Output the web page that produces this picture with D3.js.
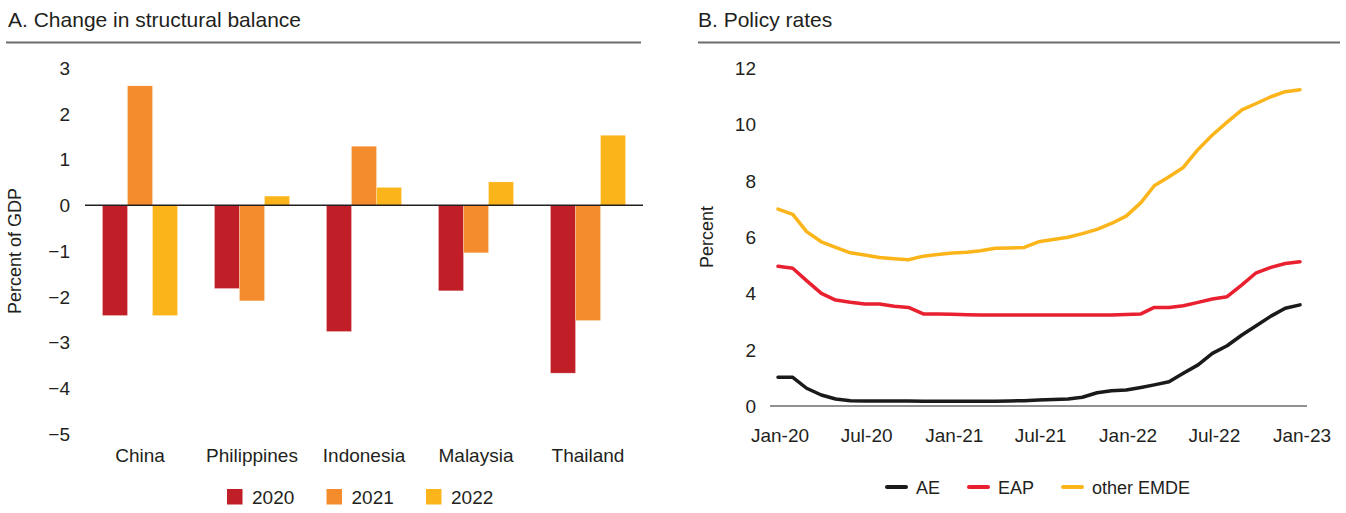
<!DOCTYPE html>
<html>
<head>
<meta charset="utf-8">
<script src="https://cdn.jsdelivr.net/npm/d3@7"></script>
<style>
  body { margin: 0; background: #fff; }
  svg text { font-family: "Liberation Sans", Arial, sans-serif; fill: #231f20; }
</style>
</head>
<body>
<svg width="1346" height="513"></svg>
<script>
// Panel A data
const countries = ["China", "Philippines", "Indonesia", "Malaysia", "Thailand"];
const years = ["2020", "2021", "2022"];
const bal2020 = [-2.41, -1.82, -2.76, -1.87, -3.67];
const bal2021 = [2.61, -2.09, 1.29, -1.04, -2.52];
const bal2022 = [-2.41, 0.20, 0.39, 0.51, 1.53];
const balTicks = [3, 2, 1, 0, -1, -2, -3, -4, -5];

// Panel B data (monthly)
const months = [
  "2020-01","2020-02","2020-03","2020-04","2020-05","2020-06","2020-07","2020-08","2020-09","2020-10","2020-11","2020-12",
  "2021-01","2021-02","2021-03","2021-04","2021-05","2021-06","2021-07","2021-08","2021-09","2021-10","2021-11","2021-12",
  "2022-01","2022-02","2022-03","2022-04","2022-05","2022-06","2022-07","2022-08","2022-09","2022-10","2022-11","2022-12",
  "2023-01"
];
const rateAE = [1.02, 1.02, 0.63, 0.39, 0.25, 0.19, 0.18, 0.18, 0.18, 0.18, 0.17, 0.17,
  0.17, 0.17, 0.17, 0.17, 0.18, 0.19, 0.21, 0.23, 0.25, 0.31, 0.47, 0.54,
  0.57, 0.66, 0.75, 0.86, 1.16, 1.46, 1.87, 2.14, 2.52, 2.85, 3.19, 3.47, 3.59];
const rateEAP = [4.96, 4.89, 4.45, 4.00, 3.76, 3.68, 3.62, 3.62, 3.54, 3.50, 3.27, 3.27,
  3.26, 3.24, 3.23, 3.23, 3.23, 3.23, 3.23, 3.23, 3.23, 3.23, 3.23, 3.23,
  3.25, 3.27, 3.50, 3.50, 3.56, 3.68, 3.80, 3.88, 4.30, 4.73, 4.92, 5.06, 5.12];
const rateEMDE = [6.99, 6.80, 6.19, 5.83, 5.63, 5.44, 5.36, 5.27, 5.23, 5.19, 5.32, 5.38,
  5.43, 5.46, 5.51, 5.60, 5.61, 5.63, 5.83, 5.91, 5.99, 6.12, 6.27, 6.48,
  6.74, 7.22, 7.82, 8.14, 8.47, 9.11, 9.62, 10.08, 10.51, 10.74, 10.98, 11.16, 11.23];
const rateTicks = [0, 2, 4, 6, 8, 10, 12];
const dateTicks = ["2020-01","2020-07","2021-01","2021-07","2022-01","2022-07","2023-01"];

const barColors = ["#c01f27", "#f48c2d", "#fbb51a"];
const lineSeries = [
  { name: "AE", values: rateAE, color: "#1a1a1a" },
  { name: "EAP", values: rateEAP, color: "#e8202f" },
  { name: "other EMDE", values: rateEMDE, color: "#fbb51a" }
];

const svg = d3.select("svg");
const parse = d3.timeParse("%Y-%m");

// ---------- Panel A ----------
svg.append("text").attr("x", 8).attr("y", 27).style("font-size", "21px")
  .text("A. Change in structural balance");
svg.append("line").attr("x1", 6).attr("x2", 641).attr("y1", 42.5).attr("y2", 42.5)
  .attr("stroke", "#6d6d6d").attr("stroke-width", 2);

const yA = d3.scaleLinear().domain([-5, 3]).range([434, 68]);
const x0 = d3.scaleBand().domain(countries).range([85, 643]).paddingInner(0.33).paddingOuter(0.156);
const x1 = d3.scaleBand().domain(years).range([0, x0.bandwidth()]);
const balSeries = [bal2020, bal2021, bal2022];

const gA = svg.append("g");
gA.selectAll("text.tick").data(balTicks).join("text")
  .attr("x", 70).attr("y", d => yA(d)).attr("dy", "0.36em")
  .attr("text-anchor", "end").style("font-size", "19px")
  .text(d => d < 0 ? "\u2212" + Math.abs(d) : d);

countries.forEach((c, i) => {
  gA.selectAll(null).data(years).join("rect")
    .attr("x", y => x0(c) + x1(y))
    .attr("width", x1.bandwidth())
    .attr("y", (y, j) => yA(Math.max(0, balSeries[j][i])))
    .attr("height", (y, j) => Math.abs(yA(balSeries[j][i]) - yA(0)))
    .attr("fill", (y, j) => barColors[j])
    .attr("stroke", "#fff").attr("stroke-opacity", 0.4).attr("stroke-width", 0.6);
});

gA.append("line").attr("x1", 85).attr("x2", 643).attr("y1", yA(0)).attr("y2", yA(0))
  .attr("stroke", "#231f20").attr("stroke-width", 1.3);

gA.selectAll("text.cat").data(countries).join("text")
  .attr("x", d => x0(d) + x0.bandwidth() / 2).attr("y", 462)
  .attr("text-anchor", "middle").style("font-size", "19px").text(d => d);

svg.append("text").attr("transform", "translate(21,251) rotate(-90)")
  .attr("text-anchor", "middle").style("font-size", "18px").text("Percent of GDP");

const legA = svg.append("g").selectAll("g").data(years).join("g")
  .attr("transform", (d, i) => `translate(${227 + i * 99.5},489)`);
legA.append("rect").attr("width", 15.5).attr("height", 15.5).attr("fill", (d, i) => barColors[i]);
legA.append("text").attr("x", 25).attr("y", 14.5).style("font-size", "19px").text(d => d);

// ---------- Panel B ----------
svg.append("text").attr("x", 698).attr("y", 27).style("font-size", "21px").text("B. Policy rates");
svg.append("line").attr("x1", 698).attr("x2", 1340).attr("y1", 42.5).attr("y2", 42.5)
  .attr("stroke", "#6d6d6d").attr("stroke-width", 2);

const xB = d3.scaleTime().domain([parse("2020-01"), parse("2023-01")]).range([778, 1300]);
const yB = d3.scaleLinear().domain([0, 12]).range([406, 68]);
const gB = svg.append("g");

gB.selectAll("text.ytick").data(rateTicks).join("text")
  .attr("x", 756).attr("y", d => yB(d)).attr("dy", "0.36em")
  .attr("text-anchor", "end").style("font-size", "19px").text(d => d);

gB.selectAll("text.xtick").data(dateTicks).join("text")
  .attr("x", d => xB(parse(d)) + 2).attr("y", 442)
  .attr("text-anchor", "middle").style("font-size", "19px")
  .text(d => d3.timeFormat("%b-%y")(parse(d)));

gB.append("line").attr("x1", 770).attr("x2", 1307).attr("y1", yB(0)).attr("y2", yB(0))
  .attr("stroke", "#6d6d6d").attr("stroke-width", 1.5);

const line = d3.line().x((d, i) => xB(parse(months[i]))).y(d => yB(d));
gB.selectAll("path.series").data(lineSeries).join("path")
  .attr("d", d => line(d.values))
  .attr("fill", "none").attr("stroke", d => d.color)
  .attr("stroke-width", 3.5).attr("stroke-linejoin", "round").attr("stroke-linecap", "round");

svg.append("text").attr("transform", "translate(713,237) rotate(-90)")
  .attr("text-anchor", "middle").style("font-size", "18px").text("Percent");

const legB = svg.append("g").selectAll("g").data(lineSeries).join("g")
  .attr("transform", (d, i) => `translate(${[887, 969, 1063][i]},487)`);
legB.append("line").attr("x1", 0).attr("x2", 19).attr("stroke", d => d.color)
  .attr("stroke-width", 4).attr("stroke-linecap", "round");
legB.append("text").attr("x", 29).attr("y", 6.5).style("font-size", "18px").text(d => d.name);
</script>
</body>
</html>
